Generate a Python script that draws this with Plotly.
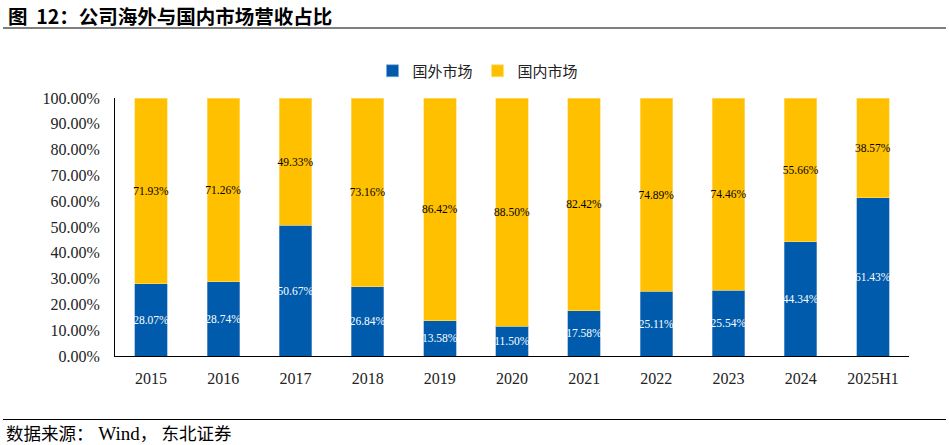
import plotly.graph_objects as go

categories = ["2015", "2016", "2017", "2018", "2019", "2020", "2021", "2022", "2023", "2024", "2025H1"]
overseas = [28.07, 28.74, 50.67, 26.84, 13.58, 11.50, 17.58, 25.11, 25.54, 44.34, 61.43]
domestic = [71.93, 71.26, 49.33, 73.16, 86.42, 88.50, 82.42, 74.89, 74.46, 55.66, 38.57]
y_ticks = [0, 10, 20, 30, 40, 50, 60, 70, 80, 90, 100]

W, H = 949, 445
L, R, T, B = 115, 909, 98, 356

def px(x):
    return (x - L) / (R - L)

def py(y):
    return (B - y) / (B - T)

serif = "Liberation Serif, Times New Roman, serif"
cjk = "Noto Sans CJK SC, sans-serif"
mixed = "Liberation Serif, Noto Sans CJK SC, serif"

fig = go.Figure()
fig.add_trace(go.Bar(
    x=categories, y=overseas, name="国外市场",
    marker=dict(color="#005BAC", line=dict(color="#7FA9D6", width=0.6)),
    texttemplate="%{y:.2f}%", textposition="inside", insidetextanchor="middle",
    textangle=0, constraintext="none",
    textfont=dict(family=serif, size=11.5, color="white"),
    width=0.45,
))
fig.add_trace(go.Bar(
    x=categories, y=domestic, name="国内市场",
    marker=dict(color="#FFC000", line=dict(color="#FFE080", width=0.6)),
    texttemplate="%{y:.2f}%", textposition="inside", insidetextanchor="middle",
    textangle=0, constraintext="none",
    textfont=dict(family=serif, size=11.5, color="black"),
    width=0.45,
))

fig.update_layout(
    barmode="stack",
    width=W, height=H,
    margin=dict(l=L, r=W - R, t=T, b=H - B, pad=0),
    paper_bgcolor="white", plot_bgcolor="white",
    showlegend=True,
    legend=dict(orientation="h", x=px(478), y=py(71), xanchor="center", yanchor="middle",
                font=dict(family=cjk, size=15, color="#222"), itemwidth=30,
                traceorder="normal", bgcolor="rgba(0,0,0,0)"),
    xaxis=dict(showline=True, linecolor="black", linewidth=1, ticks="",
               tickfont=dict(family=serif, size=16, color="#222"), showgrid=False,
               ticklabelstandoff=8),
    yaxis=dict(range=[0, 100], tickvals=y_ticks, ticktext=[f"{v:.2f}%" for v in y_ticks],
               showline=True, linecolor="black", linewidth=1, ticks="", showgrid=False,
               zeroline=False, tickfont=dict(family=serif, size=16, color="#222"),
               ticklabelstandoff=11),
    font=dict(family=serif),
)

fig.add_annotation(text="<b>图  12：公司海外与国内市场营收占比</b>", xref="paper", yref="paper",
                   x=px(6), y=py(15), xanchor="left", yanchor="middle", showarrow=False,
                   font=dict(family=cjk, size=19.5, color="black"))
fig.add_annotation(text="数据来源：<span style='font-size:19px'>&nbsp;Wind</span>，&nbsp;东北证券",
                   xref="paper", yref="paper",
                   x=px(4), y=py(433), xanchor="left", yanchor="middle", showarrow=False,
                   font=dict(family=mixed, size=17.5, color="black"))
fig.add_shape(type="line", xref="paper", yref="paper", x0=px(3), x1=px(946), y0=py(28), y1=py(28),
              line=dict(color="black", width=1))
fig.add_shape(type="line", xref="paper", yref="paper", x0=px(3), x1=px(946), y0=py(419.5), y1=py(419.5),
              line=dict(color="black", width=1))

fig.write_html("out.html", config={"displayModeBar": False},
               post_script="document.body.style.margin='0';document.body.style.overflow='hidden';")
